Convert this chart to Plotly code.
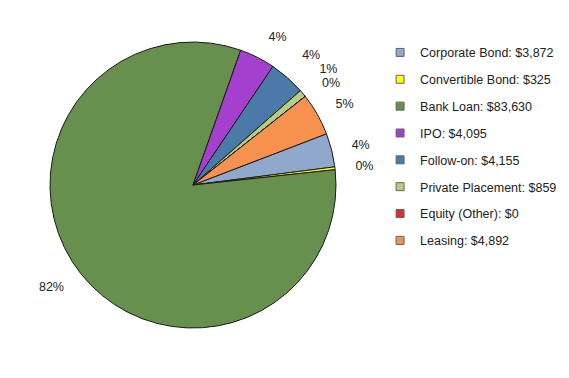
import plotly.graph_objects as go

categories = ["Corporate Bond", "Convertible Bond", "Bank Loan", "IPO", "Follow-on",
              "Private Placement", "Equity (Other)", "Leasing"]
values = [3872, 325, 83630, 4095, 4155, 859, 0, 4892]
colors = ["#8FA8CC", "#FFFF00", "#67904F", "#A43FCE", "#4B79A8", "#B6CF7E", "#D9302F", "#F7914F"]

legend_labels = [f"{c}: ${v:,}" for c, v in zip(categories, values)]
FONT = "Liberation Sans, Arial, sans-serif"

fig = go.Figure()
# visible pie
fig.add_trace(go.Pie(
    labels=categories, values=values, sort=False, direction="clockwise", rotation=69,
    marker=dict(colors=colors, line=dict(color="#1a1a1a", width=1)),
    textinfo="none", showlegend=False,
    domain=dict(x=[0.0879, 0.5905], y=[0.132, 0.889]),
    hoverinfo="label+value+percent",
))
# transparent, slightly larger pie carrying the outside percentage labels
fig.add_trace(go.Pie(
    labels=categories, values=values, sort=False, direction="clockwise", rotation=69,
    marker=dict(colors=["rgba(0,0,0,0)"] * len(values), line=dict(width=0)),
    texttemplate="%{percent:.0%}", textposition="outside",
    outsidetextfont=dict(family=FONT, size=12.5, color="#222222"),
    showlegend=False, hoverinfo="skip",
    domain=dict(x=[0.058, 0.6204], y=[0.0873, 0.9339]),
))
for i, (lab, col) in enumerate(zip(legend_labels, colors)):
    fig.add_trace(go.Scatter(
        x=[None], y=[None], mode="markers", name=lab, legendgroup=f"g{i}",
        marker=dict(symbol="square", size=8, color=col, line=dict(color="#666666", width=1)),
    ))

fig.update_layout(
    width=569, height=378, margin=dict(l=0, r=0, t=0, b=0),
    paper_bgcolor="white", plot_bgcolor="white",
    xaxis=dict(visible=False), yaxis=dict(visible=False),
    font=dict(family=FONT, size=12.5, color="#222222"),
    legend=dict(x=0.668, y=0.9, xanchor="left", yanchor="top", tracegroupgap=7.6,
                font=dict(family=FONT, size=12.5, color="#222222"), itemsizing="trace",
                bgcolor="rgba(0,0,0,0)"),
    showlegend=True,
)
fig.write_html(
    "out.html",
    config={"displayModeBar": False},
    post_script="document.body.style.margin='0px';"
                "document.querySelectorAll('path.textline').forEach(function(e){e.style.display='none';});",
)
